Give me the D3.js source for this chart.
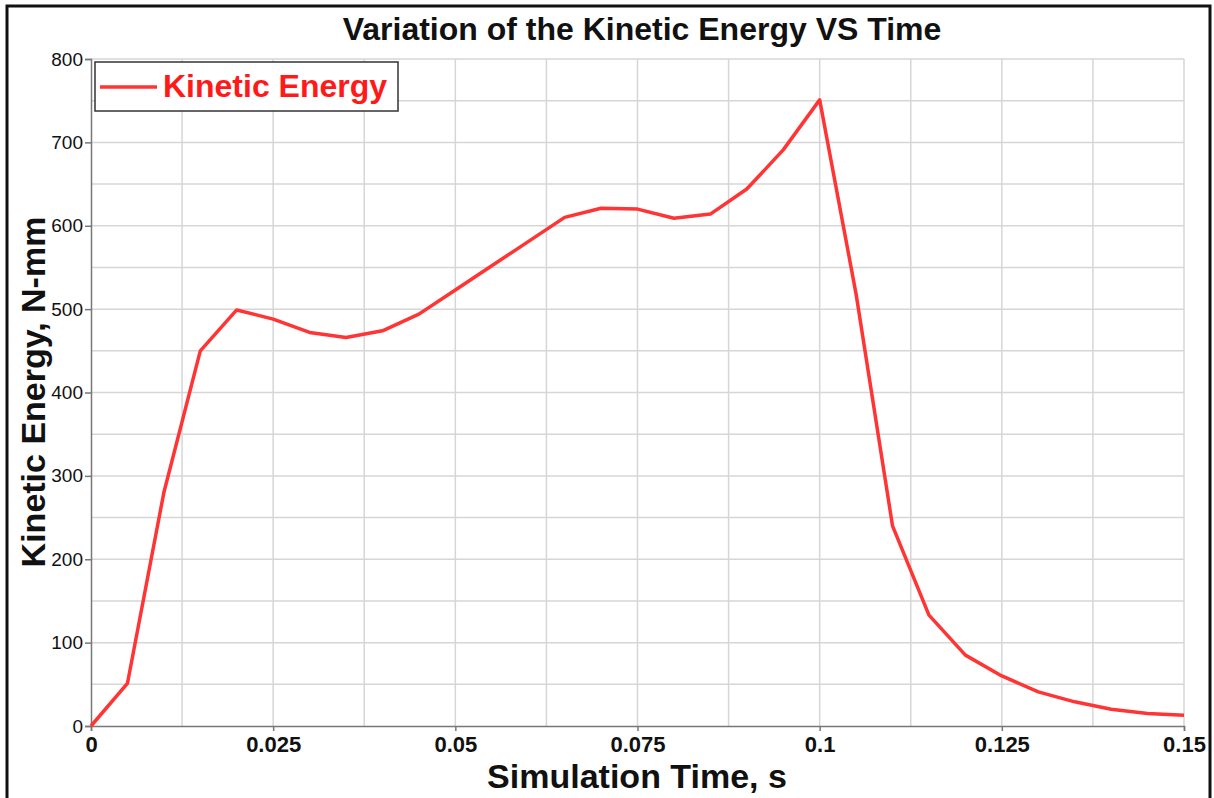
<!DOCTYPE html>
<html>
<head>
<meta charset="utf-8">
<script src="https://cdn.jsdelivr.net/npm/d3@7"></script>
<style>
  body { margin: 0; background: #fff; }
  svg { display: block; font-family: "Liberation Sans", Arial, sans-serif; }
</style>
</head>
<body>
<div id="chart"></div>
<script>
// --- data ---
const timeValues = [0, 0.005, 0.01, 0.015, 0.02, 0.025, 0.03, 0.035, 0.04, 0.045,
  0.05, 0.055, 0.06, 0.065, 0.07, 0.075, 0.08, 0.085, 0.09, 0.095,
  0.1, 0.105, 0.11, 0.115, 0.12, 0.125, 0.13, 0.135, 0.14, 0.145, 0.15];
const kineticEnergy = [0, 51, 280, 450, 499, 488, 472, 466, 474, 494,
  523, 552, 581, 610, 621, 620, 609, 614, 644, 691,
  751, 518, 240, 133, 85, 60, 41, 29, 20, 15, 13];

const xTicks = [0, 0.025, 0.05, 0.075, 0.1, 0.125, 0.15];
const xTickLabels = ["0", "0.025", "0.05", "0.075", "0.1", "0.125", "0.15"];
const xGrid = [0.0125, 0.025, 0.0375, 0.05, 0.0625, 0.075, 0.0875, 0.1, 0.1125, 0.125, 0.1375, 0.15];
const yTicks = [0, 100, 200, 300, 400, 500, 600, 700, 800];
const yGrid = [50, 100, 150, 200, 250, 300, 350, 400, 450, 500, 550, 600, 650, 700, 750, 800];

const W = 1214, H = 798;
const plot = { left: 91, right: 1184, top: 59, bottom: 726 };

const svg = d3.select("#chart").append("svg")
  .attr("width", W).attr("height", H);

// outer frame
svg.append("rect")
  .attr("x", 7).attr("y", 6)
  .attr("width", 1203).attr("height", 810)
  .attr("fill", "#fff")
  .attr("stroke", "#111")
  .attr("stroke-width", 3);

const x = d3.scaleLinear().domain([0, 0.15]).range([plot.left, plot.right]);
const y = d3.scaleLinear().domain([0, 800]).range([plot.bottom, plot.top]);

// grid
const grid = svg.append("g").attr("stroke", "#d6d6d6").attr("stroke-width", 1.5);
grid.selectAll("line.v").data(xGrid).enter().append("line")
  .attr("x1", d => x(d)).attr("x2", d => x(d))
  .attr("y1", plot.top).attr("y2", plot.bottom);
grid.selectAll("line.h").data(yGrid).enter().append("line")
  .attr("x1", plot.left).attr("x2", plot.right)
  .attr("y1", d => y(d)).attr("y2", d => y(d));

// axes
const xAxis = d3.axisBottom(x)
  .tickValues(xTicks)
  .tickFormat((d, i) => xTickLabels[i])
  .tickSize(5).tickPadding(5);
const gx = svg.append("g")
  .attr("transform", `translate(0,${plot.bottom})`)
  .call(xAxis);
gx.select(".domain").attr("stroke", "#777").attr("stroke-width", 1.5);
gx.selectAll(".tick line").attr("stroke", "#777").attr("stroke-width", 1.5);
gx.selectAll(".tick text")
  .attr("fill", "#111")
  .style("font-size", "22px")
  .style("font-weight", "bold")
  .style("font-family", "'Liberation Sans', Arial, sans-serif");

const yAxis = d3.axisLeft(y)
  .tickValues(yTicks)
  .tickFormat(d3.format("d"))
  .tickSize(6).tickPadding(2);
const gy = svg.append("g")
  .attr("transform", `translate(${plot.left},0)`)
  .call(yAxis);
gy.select(".domain").attr("stroke", "#777").attr("stroke-width", 1.5);
gy.selectAll(".tick line").attr("stroke", "#777").attr("stroke-width", 1.5);
gy.selectAll(".tick text")
  .attr("fill", "#111")
  .style("font-size", "19px")
  .style("font-family", "'Liberation Sans', Arial, sans-serif");

// series
const series = timeValues.map((t, i) => ({ t, e: kineticEnergy[i] }));
svg.append("path")
  .datum(series)
  .attr("fill", "none")
  .attr("stroke", "#ff3434")
  .attr("stroke-width", 3.5)
  .attr("stroke-linejoin", "round")
  .attr("d", d3.line().x(d => x(d.t)).y(d => y(d.e)));

// title and axis labels
svg.append("text")
  .attr("x", 642).attr("y", 40)
  .attr("text-anchor", "middle")
  .style("font-size", "32px").style("font-weight", "bold")
  .attr("fill", "#111")
  .text("Variation of the Kinetic Energy VS Time");

svg.append("text")
  .attr("x", 637).attr("y", 788)
  .attr("text-anchor", "middle")
  .style("font-size", "34px").style("font-weight", "bold")
  .attr("fill", "#111")
  .text("Simulation Time, s");

svg.append("text")
  .attr("transform", "translate(45,392) rotate(-90)")
  .attr("text-anchor", "middle")
  .style("font-size", "34px").style("font-weight", "bold")
  .attr("fill", "#111")
  .text("Kinetic Energy, N-mm");

// legend
const legend = svg.append("g");
legend.append("rect")
  .attr("x", 95).attr("y", 62)
  .attr("width", 303).attr("height", 49)
  .attr("fill", "#fff")
  .attr("stroke", "#333").attr("stroke-width", 1.5);
legend.append("line")
  .attr("x1", 100).attr("x2", 157)
  .attr("y1", 87).attr("y2", 87)
  .attr("stroke", "#ff3434").attr("stroke-width", 3.5);
legend.append("text")
  .attr("x", 163).attr("y", 97)
  .style("font-size", "32px").style("font-weight", "bold")
  .attr("fill", "#ff1a1a")
  .text("Kinetic Energy");
</script>
</body>
</html>
